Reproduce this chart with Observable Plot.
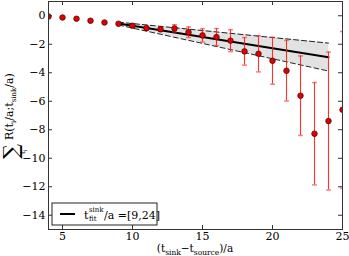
<!DOCTYPE html>
<html><head><meta charset="utf-8">
<script src="https://cdn.jsdelivr.net/npm/d3@7"></script>
<script src="https://cdn.jsdelivr.net/npm/@observablehq/plot@0.6"></script>
<style>body{margin:0;background:#fff;} svg{display:block}</style>
</head><body><div id="chart"></div>
<script>
// data
const tSep = [4,5,6,7,8,9,10,11,12,13,14,15,16,17,18,19,20,21,22,23,24,25];
const ratio = [-0.05,-0.12,-0.21,-0.35,-0.47,-0.56,-0.70,-0.87,-0.95,-0.89,-1.16,-1.38,-1.50,-1.75,-2.50,-2.67,-3.16,-3.86,-5.61,-8.28,-7.39,-6.60];
const ratioErr = [0.02,0.02,0.02,0.03,0.03,0.05,0.07,0.10,0.15,0.26,0.37,0.47,0.60,0.77,0.97,1.27,1.65,2.13,2.79,3.59,4.84,5.50];
const fitRange = [9, 24];
const fitCentral = [-0.55, -2.92];
const fitUpper = [-0.45, -1.92];
const fitLower = [-0.65, -3.88];
const xTicks = [5,10,15,20,25];
const yTicks = [0,-2,-4,-6,-8,-10,-12,-14];
const yTickLabels = ["0","−2","−4","−6","−8","−10","−12","−14"];
const legendRange = "=[9,24]";

const W = 349, H = 256, mL = 48, mR = 7, mT = 1, mB = 27;
const innerW = W - mL - mR, innerH = H - mT - mB;
const points = tSep.map((t, i) => ({t, r: ratio[i], lo: ratio[i] - ratioErr[i], hi: ratio[i] + ratioErr[i]}));
const fit = fitRange.map((t, i) => ({t, c: fitCentral[i], u: fitUpper[i], l: fitLower[i]}));
const capSymbol = {draw(ctx, size) { const w = Math.sqrt(size / Math.PI); ctx.moveTo(-w, 0); ctx.lineTo(w, 0); }};
const errColor = "#ff1a1a";
const font = "DejaVu Serif";

const plot = Plot.plot({
  width: W, height: H, marginLeft: mL, marginRight: mR, marginTop: mT, marginBottom: mB,
  style: {fontFamily: font, fontSize: "11px", background: "#fff", color: "#000", overflow: "visible"},
  x: {domain: [4, 25]},
  y: {domain: [-15, 1]},
  marks: [
    Plot.areaY(fit, {x: "t", y1: "l", y2: "u", fill: "#e2e2e2"}),
    Plot.line(fit, {x: "t", y: "u", stroke: "#222", strokeDasharray: "5,3", strokeWidth: 1}),
    Plot.line(fit, {x: "t", y: "l", stroke: "#222", strokeDasharray: "5,3", strokeWidth: 1}),
    Plot.line(fit, {x: "t", y: "c", stroke: "#000", strokeWidth: 2}),
    Plot.ruleX(points, {x: "t", y1: "lo", y2: "hi", stroke: errColor, strokeOpacity: 0.9, strokeWidth: 1.1, clip: true}),
    Plot.dot(points, {x: "t", y: "lo", symbol: capSymbol, r: 2.5, stroke: errColor, strokeOpacity: 0.55, fill: "none", clip: true}),
    Plot.dot(points, {x: "t", y: "hi", symbol: capSymbol, r: 2.5, stroke: errColor, strokeOpacity: 0.55, fill: "none", clip: true}),
    Plot.dot(points, {x: "t", y: "r", r: 2.8, fill: "#e00000", stroke: "#4a0000", strokeWidth: 0.7, clip: true}),
    Plot.tickX(xTicks, {x: d => d, insetTop: innerH - 4, stroke: "#333"}),
    Plot.tickX(xTicks, {x: d => d, insetBottom: innerH - 4, stroke: "#333"}),
    Plot.tickY(yTicks, {y: d => d, insetRight: innerW - 4, stroke: "#333"}),
    Plot.tickY(yTicks, {y: d => d, insetLeft: innerW - 4, stroke: "#333"}),
    Plot.axisX({ticks: xTicks, tickSize: 0, tickPadding: 3, label: null, fontSize: 11}),
    Plot.axisY({ticks: yTicks, tickSize: 0, tickPadding: 3, label: null, fontSize: 11,
      tickFormat: d => yTickLabels[yTicks.indexOf(d)]}),
    Plot.frame({stroke: "#333", strokeWidth: 1})
  ]
});
document.getElementById("chart").appendChild(plot);

const svg = d3.select(plot);
// x axis label
const xl = svg.append("text").attr("x", mL + innerW / 2).attr("y", H - 4)
  .attr("text-anchor", "middle").attr("font-family", font).attr("font-size", 10.5).attr("fill", "#000");
xl.append("tspan").text("(t");
xl.append("tspan").attr("dy", 3).attr("font-size", 7.5).text("sink");
xl.append("tspan").attr("dy", -3).text("−t");
xl.append("tspan").attr("dy", 3).attr("font-size", 7.5).text("source");
xl.append("tspan").attr("dy", -3).text(")/a");

// y axis label (rotated)
const yg = svg.append("g").attr("transform", "rotate(-90)").attr("font-family", font)
  .attr("fill", "#000").attr("text-anchor", "start");
yg.append("text").attr("x", -159).attr("y", 18).attr("font-size", 21).text("∑");
const ys = yg.append("text").attr("x", -154).attr("y", 25).attr("font-size", 7);
ys.append("tspan").text("t");
ys.append("tspan").attr("dy", 1.5).attr("font-size", 5).text("i");
const yl = yg.append("text").attr("x", -140).attr("y", 13).attr("font-size", 11);
yl.append("tspan").text("R(t");
yl.append("tspan").attr("dy", 2.5).attr("font-size", 7).text("i");
yl.append("tspan").attr("dy", -2.5).text("/a;t");
yl.append("tspan").attr("dy", 2.5).attr("font-size", 7).text("sink");
yl.append("tspan").attr("dy", -2.5).text("/a)");

// legend
const lx = mL + 4, ly = mT + innerH - 4 - 22;
const lg = svg.append("g").attr("transform", `translate(${lx},${ly})`).attr("font-family", font)
  .attr("fill", "#000").attr("text-anchor", "start");
lg.append("rect").attr("x", 0).attr("y", 0).attr("width", 105).attr("height", 22)
  .attr("fill", "#fff").attr("stroke", "#222").attr("stroke-width", 1);
lg.append("line").attr("x1", 8).attr("x2", 23).attr("y1", 11).attr("y2", 11).attr("stroke", "#000").attr("stroke-width", 2);
lg.append("text").attr("x", 32).attr("y", 16).attr("font-size", 11).text("t");
lg.append("text").attr("x", 37).attr("y", 9).attr("font-size", 7).text("sink");
lg.append("text").attr("x", 37).attr("y", 18).attr("font-size", 7).text("fit");
lg.append("text").attr("x", 52).attr("y", 16).attr("font-size", 11).text("/a " + legendRange);
</script></body></html>
